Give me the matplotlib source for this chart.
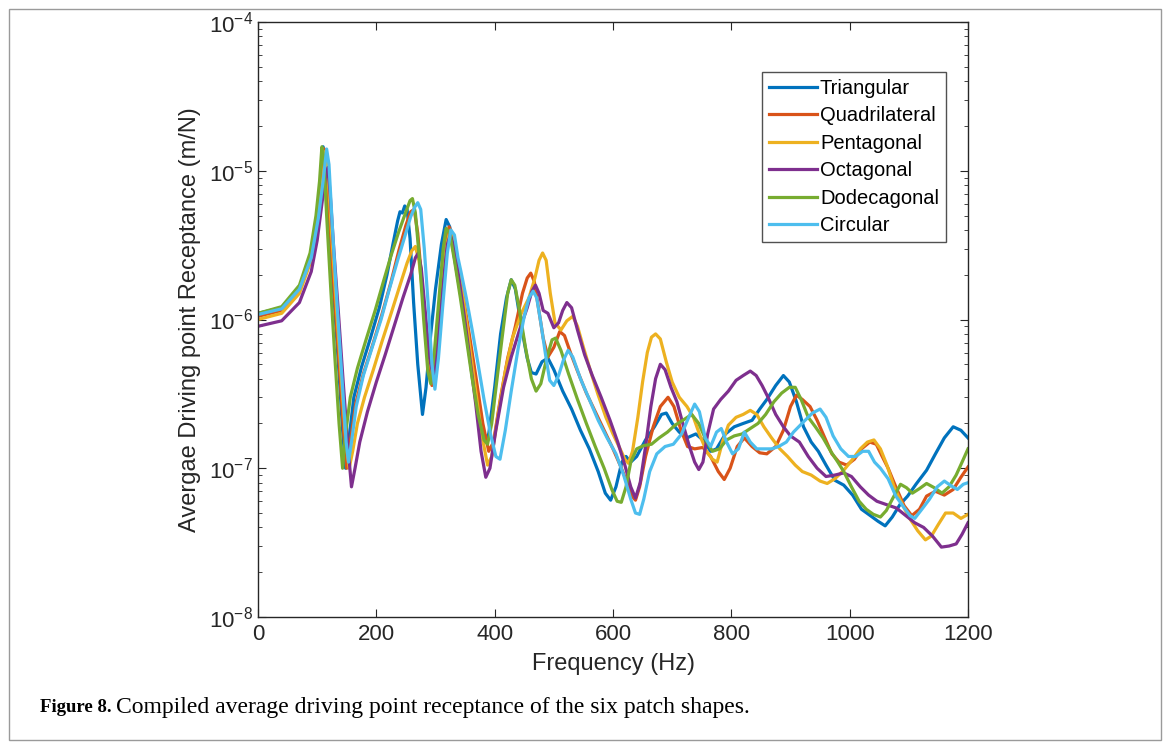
import matplotlib
matplotlib.use("Agg")
import matplotlib.pyplot as plt
from matplotlib.patches import Rectangle
from matplotlib.ticker import LogLocator, NullFormatter

plt.rcParams["font.family"] = ["Liberation Sans", "DejaVu Sans"]

# data: frequency (Hz) and receptance (m/N)
tri_f = [0, 40, 70, 90, 100, 106, 110, 114, 120, 128, 136, 143, 148, 154, 162, 175, 190, 205, 218, 228,
         236, 240, 244, 248, 252, 257, 263, 270, 278, 284, 292, 300, 310, 318, 324, 332, 342, 352, 362, 372,
         381, 390, 400, 410, 420, 428, 435, 445, 455, 462, 470, 480, 490, 500, 515, 530, 545, 560, 575, 587,
         596, 605, 615, 622, 630, 640, 655, 670, 682, 690, 700, 712, 725, 740, 752, 765, 775, 790, 805, 820,
         835, 848, 860, 875, 888, 898, 910, 922, 935, 947, 960, 975, 990, 1005, 1020, 1035, 1048, 1060, 1072,
         1085, 1098, 1112, 1130, 1145, 1160, 1175, 1188, 1200]
tri_v = [1.1e-6, 1.2e-6, 1.6e-6, 2.8e-6, 5.0e-6, 8.5e-6, 1.45e-5, 1.2e-5, 4.5e-6, 1.5e-6, 5e-7, 1.8e-7, 1.0e-7,
         1.6e-7, 3.0e-7, 4.8e-7, 7.5e-7, 1.2e-6, 2.0e-6, 3.2e-6, 4.6e-6, 5.3e-6, 5.2e-6, 5.8e-6, 5.5e-6, 3.5e-6,
         1.3e-6, 5e-7, 2.3e-7, 3.5e-7, 8e-7, 1.6e-6, 3.2e-6, 4.7e-6, 4.2e-6, 2.6e-6, 1.5e-6, 8.5e-7, 4.6e-7,
         2.5e-7, 1.5e-7, 1.7e-7, 3.5e-7, 8e-7, 1.4e-6, 1.85e-6, 1.6e-6, 9e-7, 5.5e-7, 4.4e-7, 4.3e-7, 5.2e-7,
         5.5e-7, 4.6e-7, 3.3e-7, 2.5e-7, 1.8e-7, 1.35e-7, 9.5e-8, 6.8e-8, 6.1e-8, 7.5e-8, 1.1e-7, 1.2e-7, 1.1e-7,
         1.2e-7, 1.55e-7, 1.9e-7, 2.3e-7, 2.35e-7, 2.0e-7, 1.75e-7, 1.6e-7, 1.7e-7, 1.55e-7, 1.3e-7, 1.35e-7,
         1.7e-7, 1.9e-7, 2.0e-7, 2.1e-7, 2.5e-7, 2.9e-7, 3.6e-7, 4.2e-7, 3.8e-7, 2.8e-7, 1.9e-7, 1.5e-7, 1.3e-7,
         1.05e-7, 8.3e-8, 7.7e-8, 6.6e-8, 5.3e-8, 4.8e-8, 4.4e-8, 4.1e-8, 4.7e-8, 5.7e-8, 6.5e-8, 7.8e-8, 9.7e-8,
         1.25e-7, 1.6e-7, 1.9e-7, 1.8e-7, 1.6e-7]

quad_f = [0, 40, 70, 90, 100, 107, 112, 116, 122, 130, 138, 145, 150, 156, 165, 178, 195, 210, 225, 238,
          250, 258, 264, 270, 278, 286, 294, 302, 310, 318, 323, 328, 336, 346, 357, 368, 380, 390, 398, 410,
          422, 435, 447, 455, 461, 467, 474, 482, 490, 500, 510, 518, 528, 540, 555, 570, 585, 600, 612, 624,
          632, 638, 645, 655, 668, 680, 693, 703, 715, 726, 738, 752, 765, 778, 788, 798, 810, 822, 835, 848,
          860, 875, 888, 900, 910, 920, 933, 945, 958, 970, 982, 995, 1008, 1020, 1034, 1045, 1055, 1065, 1078,
          1092, 1105, 1118, 1130, 1145, 1160, 1175, 1188, 1200]
quad_v = [1.05e-6, 1.15e-6, 1.55e-6, 2.6e-6, 4.5e-6, 8e-6, 1.4e-5, 1.1e-5, 4e-6, 1.3e-6, 4.5e-7, 1.7e-7, 1.0e-7,
          1.5e-7, 2.7e-7, 4.3e-7, 7e-7, 1.1e-6, 1.8e-6, 2.9e-6, 4.3e-6, 5.3e-6, 5.5e-6, 3.8e-6, 1.6e-6, 6.5e-7,
          3.6e-7, 6.5e-7, 1.6e-6, 3.3e-6, 4.2e-6, 3.8e-6, 2.6e-6, 1.5e-6, 8e-7, 4.2e-7, 2.0e-7, 1.3e-7, 1.5e-7,
          3e-7, 5.5e-7, 9e-7, 1.5e-6, 1.9e-6, 2.05e-6, 1.8e-6, 1.2e-6, 7.5e-7, 5.6e-7, 6.5e-7, 8.3e-7, 7.8e-7,
          6e-7, 4.5e-7, 3.2e-7, 2.4e-7, 1.8e-7, 1.35e-7, 1.05e-7, 8e-8, 6.5e-8, 6.1e-8, 7.5e-8, 1.2e-7, 1.9e-7,
          2.6e-7, 3.0e-7, 2.6e-7, 1.8e-7, 1.4e-7, 1.35e-7, 1.38e-7, 1.2e-7, 9.5e-8, 8.4e-8, 1.0e-7, 1.4e-7, 1.6e-7,
          1.4e-7, 1.27e-7, 1.25e-7, 1.4e-7, 1.8e-7, 2.6e-7, 3.1e-7, 2.9e-7, 2.6e-7, 2.1e-7, 1.6e-7, 1.25e-7,
          1.1e-7, 1.05e-7, 1.15e-7, 1.35e-7, 1.5e-7, 1.45e-7, 1.2e-7, 1.0e-7, 7.5e-8, 5.6e-8, 4.8e-8, 5.3e-8,
          6.5e-8, 7e-8, 6.6e-8, 7.2e-8, 8.7e-8, 1.02e-7]

pent_f = [0, 40, 70, 90, 100, 108, 114, 118, 124, 132, 140, 148, 154, 160, 168, 180, 195, 210, 225, 240,
          252, 260, 266, 272, 280, 288, 295, 302, 310, 318, 324, 330, 338, 348, 358, 368, 378, 388, 395, 405,
          418, 430, 445, 458, 468, 475, 481, 487, 494, 502, 512, 522, 532, 540, 550, 562, 575, 588, 600, 612,
          620, 626, 633, 642, 650, 658, 665, 672, 680, 690, 700, 712, 725, 736, 746, 758, 768, 776, 785, 795,
          808, 820, 832, 843, 855, 868, 882, 895, 908, 920, 935, 950, 962, 975, 990, 1005, 1018, 1030, 1041,
          1052, 1063, 1075, 1090, 1103, 1115, 1128, 1138, 1150, 1162, 1175, 1188, 1200]
pent_v = [1.0e-6, 1.1e-6, 1.5e-6, 2.5e-6, 4.3e-6, 7.5e-6, 1.35e-5, 1.0e-5, 4e-6, 1.3e-6, 4.5e-7, 1.6e-7, 1.0e-7,
          1.3e-7, 2.0e-7, 3.0e-7, 4.6e-7, 7.2e-7, 1.1e-6, 1.7e-6, 2.4e-6, 2.9e-6, 3.1e-6, 2.5e-6, 1.3e-6, 6e-7,
          4.2e-7, 7e-7, 1.5e-6, 3.0e-6, 3.9e-6, 3.5e-6, 2.4e-6, 1.3e-6, 6.5e-7, 3.3e-7, 1.7e-7, 1.05e-7, 1.2e-7,
          2.2e-7, 4.5e-7, 7.5e-7, 1.1e-6, 1.4e-6, 1.9e-6, 2.5e-6, 2.8e-6, 2.5e-6, 1.5e-6, 9.5e-7, 8.5e-7, 9.8e-7,
          1.05e-6, 9e-7, 6.5e-7, 4.5e-7, 3.1e-7, 2.2e-7, 1.7e-7, 1.35e-7, 1.15e-7, 1.08e-7, 1.3e-7, 2.2e-7,
          3.8e-7, 6e-7, 7.6e-7, 8e-7, 7.4e-7, 5.2e-7, 3.8e-7, 3.0e-7, 2.6e-7, 2.2e-7, 1.7e-7, 1.3e-7, 1.15e-7,
          1.1e-7, 1.5e-7, 1.95e-7, 2.2e-7, 2.3e-7, 2.45e-7, 2.3e-7, 1.9e-7, 1.6e-7, 1.35e-7, 1.2e-7, 1.05e-7,
          9.5e-8, 9e-8, 8.2e-8, 7.9e-8, 8.5e-8, 9.7e-8, 1.15e-7, 1.35e-7, 1.5e-7, 1.55e-7, 1.35e-7, 1.05e-7,
          7.5e-8, 5.6e-8, 4.5e-8, 3.8e-8, 3.3e-8, 3.5e-8, 4.2e-8, 5.0e-8, 5.0e-8, 4.6e-8, 4.9e-8]

oct_f = [0, 40, 70, 90, 100, 108, 114, 118, 122, 128, 136, 144, 152, 158, 164, 172, 185, 200, 215, 230,
         245, 258, 266, 271, 276, 283, 290, 297, 304, 312, 320, 325, 330, 338, 348, 358, 368, 377, 385, 392,
         402, 415, 428, 442, 455, 463, 469, 475, 482, 490, 500, 508, 515, 522, 530, 540, 552, 565, 580, 595,
         608, 620, 630, 638, 646, 655, 664, 672, 680, 688, 698, 708, 718, 728, 738, 745, 752, 760, 770, 782,
         795, 808, 820, 832, 842, 852, 862, 875, 888, 900, 915, 930, 945, 960, 975, 990, 1003, 1018, 1032, 1046,
         1062, 1079, 1095, 1110, 1125, 1140, 1155, 1168, 1180, 1190, 1200]
oct_v = [0.9e-6, 0.98e-6, 1.3e-6, 2.1e-6, 3.4e-6, 6e-6, 9e-6, 1.05e-5, 7e-6, 3e-6, 1.1e-6, 3.8e-7, 1.4e-7,
         7.5e-8, 1.0e-7, 1.5e-7, 2.4e-7, 3.8e-7, 5.8e-7, 9e-7, 1.4e-6, 2.0e-6, 2.6e-6, 2.8e-6, 2.2e-6, 1.1e-6,
         5.5e-7, 4.0e-7, 7e-7, 1.6e-6, 3.2e-6, 3.7e-6, 3.2e-6, 2.1e-6, 1.1e-6, 5.5e-7, 2.7e-7, 1.3e-7, 8.7e-8,
         1.0e-7, 1.8e-7, 3.5e-7, 5.6e-7, 8.5e-7, 1.2e-6, 1.55e-6, 1.7e-6, 1.5e-6, 1.15e-6, 1.1e-6, 8.8e-7,
         9.5e-7, 1.15e-6, 1.3e-6, 1.2e-6, 8.5e-7, 5.8e-7, 4.2e-7, 3.0e-7, 2.1e-7, 1.5e-7, 1.05e-7, 7.5e-8,
         6.3e-8, 8e-8, 1.4e-7, 2.6e-7, 4e-7, 5e-7, 4.6e-7, 3.5e-7, 2.8e-7, 2.0e-7, 1.45e-7, 1.1e-7, 9.8e-8,
         1.1e-7, 1.7e-7, 2.5e-7, 2.9e-7, 3.3e-7, 3.9e-7, 4.2e-7, 4.5e-7, 4.2e-7, 3.6e-7, 3.0e-7, 2.3e-7, 1.9e-7,
         1.65e-7, 1.5e-7, 1.2e-7, 1.0e-7, 8.8e-8, 9e-8, 9.3e-8, 8.8e-8, 7.5e-8, 6.6e-8, 6.0e-8, 5.7e-8, 5.4e-8,
         4.8e-8, 4.3e-8, 4.0e-8, 3.5e-8, 2.95e-8, 3.0e-8, 3.1e-8, 3.6e-8, 4.3e-8]

dodec_f = [0, 40, 70, 88, 98, 104, 108, 111, 116, 123, 130, 137, 143, 148, 156, 168, 183, 198, 212, 225,
           238, 250, 257, 261, 266, 273, 280, 287, 292, 298, 306, 313, 318, 324, 332, 342, 352, 362, 372, 382,
           388, 395, 405, 415, 422, 428, 434, 442, 452, 462, 470, 478, 488, 497, 503, 512, 525, 540, 555, 570,
           585, 598, 607, 614, 622, 630, 640, 652, 665, 678, 692, 705, 718, 733, 745, 757, 768, 780, 792, 805,
           818, 832, 845, 858, 872, 885, 898, 908, 918, 930, 942, 955, 968, 980, 990, 1003, 1016, 1028, 1040,
           1052, 1062, 1074, 1086, 1096, 1106, 1118, 1130, 1143, 1156, 1168, 1180, 1190, 1200]
dodec_v = [1.1e-6, 1.22e-6, 1.7e-6, 2.8e-6, 5e-6, 8.5e-6, 1.45e-5, 1.25e-5, 5e-6, 1.6e-6, 5.5e-7, 2e-7, 1.0e-7,
           1.7e-7, 3.0e-7, 4.7e-7, 7.4e-7, 1.15e-6, 1.8e-6, 2.7e-6, 3.9e-6, 5.3e-6, 6.3e-6, 6.5e-6, 5.2e-6,
           2.5e-6, 1.0e-6, 4.5e-7, 3.7e-7, 6e-7, 1.4e-6, 3.0e-6, 4.1e-6, 3.8e-6, 2.5e-6, 1.4e-6, 7.5e-7, 4e-7,
           2.3e-7, 1.55e-7, 1.45e-7, 2e-7, 4.3e-7, 9e-7, 1.5e-6, 1.85e-6, 1.7e-6, 1.15e-6, 6.5e-7, 4.0e-7, 3.3e-7,
           3.7e-7, 5.5e-7, 7.3e-7, 7.5e-7, 6.2e-7, 4.3e-7, 2.9e-7, 2.0e-7, 1.4e-7, 1.0e-7, 7.2e-8, 6.0e-8, 5.9e-8,
           7.5e-8, 1.1e-7, 1.35e-7, 1.42e-7, 1.45e-7, 1.6e-7, 1.75e-7, 1.95e-7, 2.1e-7, 2.3e-7, 2.0e-7, 1.55e-7,
           1.3e-7, 1.35e-7, 1.55e-7, 1.65e-7, 1.7e-7, 1.85e-7, 2.0e-7, 2.3e-7, 2.8e-7, 3.2e-7, 3.5e-7, 3.5e-7,
           2.9e-7, 2.2e-7, 1.9e-7, 1.6e-7, 1.3e-7, 1.1e-7, 9.5e-8, 7.5e-8, 6.0e-8, 5.3e-8, 4.9e-8, 4.7e-8, 5.2e-8,
           6.4e-8, 7.8e-8, 7.4e-8, 6.8e-8, 7.3e-8, 7.9e-8, 7.4e-8, 6.8e-8, 7.5e-8, 9e-8, 1.1e-7, 1.35e-7]

circ_f = [0, 40, 70, 90, 102, 110, 116, 120, 126, 134, 142, 149, 153, 158, 166, 178, 193, 208, 222, 236,
          248, 258, 265, 270, 275, 281, 288, 294, 299, 305, 312, 320, 326, 332, 338, 343, 352, 362, 372, 382,
          393, 402, 409, 418, 428, 440, 450, 458, 465, 471, 478, 486, 493, 500, 508, 516, 524, 532, 545, 560,
          575, 590, 605, 618, 630, 638, 645, 652, 662, 674, 688, 702, 716, 728, 738, 746, 756, 765, 775, 783,
          792, 802, 812, 822, 832, 843, 855, 868, 880, 893, 905, 922, 937, 950, 960, 972, 985, 998, 1010, 1022,
          1032, 1042, 1052, 1065, 1078, 1091, 1102, 1110, 1122, 1135, 1148, 1160, 1172, 1182, 1192, 1200]
circ_v = [1.08e-6, 1.18e-6, 1.6e-6, 2.6e-6, 4.8e-6, 8.5e-6, 1.4e-5, 1.1e-5, 4e-6, 1.2e-6, 4e-7, 1.5e-7, 1.1e-7,
          1.5e-7, 2.6e-7, 4.2e-7, 6.5e-7, 1.0e-6, 1.6e-6, 2.5e-6, 3.6e-6, 4.9e-6, 5.7e-6, 6.1e-6, 5.5e-6, 3.0e-6,
          1.2e-6, 5e-7, 3.4e-7, 5.5e-7, 1.2e-6, 2.8e-6, 4.0e-6, 3.7e-6, 2.6e-6, 2.1e-6, 1.4e-6, 8.5e-7, 5e-7,
          2.9e-7, 1.7e-7, 1.2e-7, 1.15e-7, 1.8e-7, 3.3e-7, 6.5e-7, 1.05e-6, 1.4e-6, 1.55e-6, 1.4e-6, 9.5e-7,
          5.8e-7, 3.9e-7, 3.6e-7, 4.2e-7, 5.3e-7, 6.2e-7, 5.6e-7, 4.0e-7, 2.9e-7, 2.1e-7, 1.6e-7, 1.25e-7, 9e-8,
          6.2e-8, 5.0e-8, 4.9e-8, 6.2e-8, 9.5e-8, 1.25e-7, 1.4e-7, 1.45e-7, 1.7e-7, 2.2e-7, 2.7e-7, 2.4e-7,
          1.6e-7, 1.4e-7, 1.75e-7, 1.85e-7, 1.5e-7, 1.25e-7, 1.35e-7, 1.75e-7, 1.5e-7, 1.35e-7, 1.35e-7,
          1.35e-7, 1.4e-7, 1.5e-7, 1.75e-7, 2.05e-7, 2.35e-7, 2.5e-7, 2.2e-7, 1.65e-7, 1.35e-7, 1.2e-7, 1.2e-7,
          1.3e-7, 1.3e-7, 1.1e-7, 1.0e-7, 8.5e-8, 6.5e-8, 5.5e-8, 4.8e-8, 4.6e-8, 5.3e-8, 6.2e-8, 7.5e-8, 8.2e-8,
          7.6e-8, 7.2e-8, 7.8e-8, 8e-8]

series = [
    ("Triangular", tri_f, tri_v, "#0072BD"),
    ("Quadrilateral", quad_f, quad_v, "#D95319"),
    ("Pentagonal", pent_f, pent_v, "#EDB120"),
    ("Octagonal", oct_f, oct_v, "#7E2F8E"),
    ("Dodecagonal", dodec_f, dodec_v, "#77AC30"),
    ("Circular", circ_f, circ_v, "#4DBEEE"),
]

fig = plt.figure(figsize=(11.7, 7.49), dpi=100)
fig.patches.append(Rectangle((9 / 1170, 9 / 749), 1 - 18 / 1170, 1 - 18 / 749, transform=fig.transFigure,
                             fill=False, edgecolor="#9a9a9a", linewidth=1.0))

ax = fig.add_axes([258 / 1170, 1 - 617 / 749, 710 / 1170, 595 / 749])
for name, f, v, c in series:
    ax.plot(f, v, color=c, linewidth=2.3, label=name)

ax.set_yscale("log")
ax.set_xlim(0, 1200)
ax.set_ylim(1e-8, 1e-4)
ax.set_xticks(range(0, 1201, 200))
ax.yaxis.set_major_locator(LogLocator(base=10, numticks=10))
ax.yaxis.set_minor_locator(LogLocator(base=10, subs=range(2, 10), numticks=20))
ax.yaxis.set_minor_formatter(NullFormatter())
ax.tick_params(which="both", direction="in", top=True, right=True, labelsize=16, colors="#262626")
ax.tick_params(which="major", length=6)
ax.tick_params(which="minor", length=3)
ax.tick_params(axis="x", pad=5)
for s in ax.spines.values():
    s.set_color("#262626")
    s.set_linewidth(1.0)

ax.set_xlabel("Frequency (Hz)", fontsize=17, color="#262626", labelpad=6)
ax.set_ylabel("Avergae Driving point Receptance (m/N)", fontsize=17, color="#262626", labelpad=6)

leg = ax.legend(loc="upper right", bbox_to_anchor=(0.969, 0.916), fontsize=14.5, frameon=True,
                fancybox=False, handlelength=2.4, handletextpad=0.15, borderpad=0.35, labelspacing=0.42,
                borderaxespad=0)
leg.get_frame().set_edgecolor("#262626")
leg.get_frame().set_linewidth(1.0)

# caption: bold label followed by regular text
cap1 = fig.text(40 / 1170, 1 - 708 / 749, "Figure 8.", fontsize=13.5, fontweight="bold",
                family="Liberation Serif", va="center", ha="left")
fig.canvas.draw()
bb = cap1.get_window_extent()
fig.text((bb.x1 + 4) / 1170, 1 - 708 / 749, "Compiled average driving point receptance of the six patch shapes.",
         fontsize=17, family="Liberation Serif", va="center", ha="left")

fig.savefig("out.png", dpi=100)
